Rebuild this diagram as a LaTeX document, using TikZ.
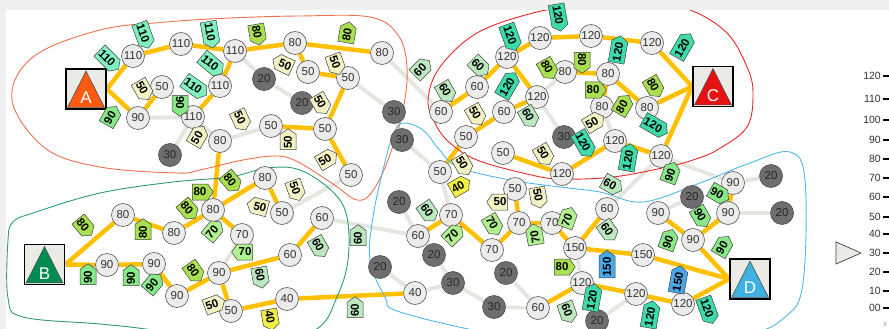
\documentclass[tikz,border=0pt]{standalone}
\usepackage{fontspec}
\setmainfont{Liberation Sans}
\usetikzlibrary{shapes.symbols,calc}
\definecolor{roady}{HTML}{FFC000}
\definecolor{roadg}{HTML}{E6E6E0}
\definecolor{cfill}{HTML}{ECECEA}
\definecolor{dfill}{HTML}{6E6E6E}
\definecolor{boxf}{HTML}{EBEBE6}
\definecolor{s110}{HTML}{80F0C0}
\definecolor{s120}{HTML}{3CDCAA}
\definecolor{s80}{HTML}{A8E050}
\definecolor{s90}{HTML}{88E888}
\definecolor{s70}{HTML}{B0F090}
\definecolor{s60}{HTML}{BCE8C0}
\definecolor{s50}{HTML}{F2F2C4}
\definecolor{s40}{HTML}{F0F040}
\definecolor{s150}{HTML}{4AA8E8}
\definecolor{oA}{HTML}{F07050}
\definecolor{oB}{HTML}{2E9C6E}
\definecolor{oC}{HTML}{E82828}
\definecolor{oD}{HTML}{50B8E8}
\definecolor{tA}{HTML}{FF5A10}
\definecolor{tB}{HTML}{008C50}
\definecolor{tC}{HTML}{E81010}
\definecolor{tD}{HTML}{40B0E0}
\definecolor{band}{HTML}{F0F0F0}
\pgfdeclarelayer{lgrey}
\pgfdeclarelayer{lyel}
\pgfdeclarelayer{lout}
\pgfsetlayers{lgrey,lyel,lout,main}
\newcommand\myL[4]{\node[lc] (#1) at (#2,#3) {#4};}
\newcommand\myD[4]{\node[dc] (#1) at (#2,#3) {#4};}
\newcommand\mySg[5]{\node[sgn,fill=s#5,rotate=#4] (#1) at (#2,#3) {#5};}
\newcommand\mySgw[5]{\node[sgn,signal to=west,fill=s#5,rotate=#4] (#1) at (#2,#3) {#5};}
\newcommand\myTerm[5]{%
  \node[box] (#1) at (#2,#3) {};
  \filldraw[fill=#4,draw=black!70,line width=0.6pt] ($(#1.south west)+(2.5,-2.5)$) -- ($(#1.south east)+(-2.5,-2.5)$) -- ($(#1.north)+(0,3)$) -- cycle;
  \node[text=white,font=\fontsize{17}{17}\selectfont] (#1lab) at (#2,#3+9) {#5};}
\begin{document}
\begin{tikzpicture}[x=1pt,y=-1pt,
 lc/.style={circle,draw=black!65,line width=0.6pt,fill=cfill,minimum size=23pt,inner sep=0pt,font=\fontsize{11.5}{11.5}\selectfont,text=black!80},
 dc/.style={lc,fill=dfill,draw=black!70,text=black!85},
 sgn/.style={signal,signal to=east,draw=black!75,line width=0.5pt,inner xsep=1.3pt,inner ysep=2pt,minimum height=16pt,signal pointer angle=110,font=\bfseries\fontsize{11.5}{11.5}\selectfont},
 yr/.style={line width=4.5pt,color=roady},
 gr/.style={line width=4pt,color=roadg},
 box/.style={draw=black,line width=1.8pt,fill=boxf,minimum size=40pt,inner sep=0pt},
 outl/.style={line width=0.9pt}]
\useasboundingbox (0,0) rectangle (889,329);
\clip (0,0) rectangle (889,329);
\fill[band] (0,0) rectangle (889,10);
\fill[band] (0,0) rectangle (6,329);
% terminals
\myTerm{A}{86}{89}{tA}{A}
\myTerm{B}{44.5}{264.5}{tB}{B}
\myTerm{C}{713}{86.5}{tC}{C}
\myTerm{D}{750}{279}{tD}{D}
% region A
\myL{a1}{133}{56}{110}
\myL{a2}{181}{44}{110}
\myL{a3}{235}{51}{110}
\myL{a4}{295}{43}{80}
\myL{a5}{382}{53}{80}
\myL{a6}{162}{87}{50}
\myL{a7}{220}{86}{110}
\myL{a8}{138}{118}{90}
\myL{a9}{193}{117}{110}
\myL{a10}{220}{141}{80}
\myL{a11}{308}{72}{50}
\myL{a12}{348}{78}{50}
\myL{a13}{271}{126}{50}
\myL{a14}{325}{129}{50}
\myL{a15}{351}{175}{50}
\myD{ad1}{264}{79}{20}
\myD{ad2}{302}{103}{20}
\myD{ad3}{170}{155}{30}
\myD{ad4}{394}{112}{30}
\myD{ad5}{402}{140}{30}
% region B
\myL{b1}{123}{215}{80}
\myL{b2}{174}{233}{80}
\myL{b3}{213}{210}{80}
\myL{b4}{107}{265}{90}
\myL{b5}{154}{264}{90}
\myL{b6}{177}{296}{90}
\myL{b7}{219}{273}{90}
\myL{b8}{265}{178}{80}
\myL{b9}{282}{213}{50}
\myL{b10}{242}{235}{70}
\myL{b11}{322}{218}{60}
\myL{b12}{290}{255}{60}
\myL{b13}{231}{311}{50}
\myL{b14}{287}{299}{40}
% region D
\myL{d1}{440}{172}{50}
\myL{d2}{515}{189}{50}
\myL{d3}{451}{215}{70}
\myL{d4}{418}{236}{60}
\myL{d5}{519}{223}{70}
\myL{d6}{552}{223}{70}
\myL{d7}{492}{250}{70}
\myL{d8}{575}{248}{150}
\myL{d9}{607}{209}{60}
\myL{d10}{415}{293}{40}
\myL{d11}{538}{308}{60}
\myL{d12}{582}{283}{120}
\myL{d13}{643}{255}{150}
\myL{d14}{636}{294}{120}
\myL{d15}{683}{304}{120}
\myL{d16}{658}{213}{90}
\myL{d17}{693}{240}{90}
\myL{d18}{728}{213}{90}
\myL{d19}{733}{183}{90}
\myD{dd1}{399}{202}{20}
\myD{dd2}{380}{267}{20}
\myD{dd3}{434}{255}{20}
\myD{dd4}{453}{283}{30}
\myD{dd5}{506}{273}{20}
\myD{dd6}{494}{307}{30}
\myD{dd7}{597}{321}{20}
\myD{dd8}{692}{197}{20}
\myD{dd9}{771}{176}{20}
\myD{dd10}{782}{213}{20}
% region C
\myL{c1}{540}{38}{120}
\myL{c2}{591}{36}{120}
\myL{c3}{652}{43}{120}
\myL{c4}{507}{57}{120}
\myL{c5}{477}{87}{60}
\myL{c6}{441}{112}{60}
\myL{c7}{504}{112}{60}
\myL{c8}{537}{97}{120}
\myL{c9}{565}{72}{80}
\myL{c10}{608}{74}{80}
\myL{c11}{602}{107}{80}
\myL{c12}{647}{108}{80}
\myL{c13}{466}{137}{50}
\myL{c14}{503}{153}{50}
\myL{c15}{615}{141}{120}
\myL{c16}{661}{156}{120}
\myL{c17}{562}{174}{120}
\myD{cd1}{564}{137}{30}
% roads
\begin{pgfonlayer}{lyel}
\draw[yr] (A.east) -- (a1);
\draw[yr] (A.east) -- (a8);
\foreach \p/\q in {a1/a2,a2/a3,a3/a4,a4/a5,a3/a7,a7/a9,a6/a8,a4/a11,a11/a12,a12/a14,a13/a14,a14/a15,a10/b3,
 b1/b2,b2/b3,b3/b8,b8/b9,b3/b10,b4/b5,b5/b6,b6/b7,b7/b12,b12/b11,b7/b13,b13/b14,b14/d10,
 d3/d4,d3/d7,d7/d5,d5/d6,d5/d2,d6/d8,d8/d9,d8/d13,d12/d11,d12/d14,d14/d15,d16/d17,d17/d18,d18/d19,
 c6/c5,c5/c4,c4/c1,c1/c2,c2/c3,c4/c8,c8/c7,c7/c13,c13/d1,c9/c10,c10/c12,c10/c11,c14/c17,c17/c15,c15/c16}
 {\draw[yr] (\p) -- (\q);}
\draw[yr] (B.east) -- (b1);
\draw[yr] (B.east) -- (b4);
\draw[yr] (d13) -- (D.west);
\draw[yr] (d15) -- (D.west);
\draw[yr] (d17) -- (D.west);
\draw[yr] (c3) -- (C.west);
\draw[yr] (c12) -- (C.west);
\draw[yr] (c16) -- (C.west);
\end{pgfonlayer}
\begin{pgfonlayer}{lgrey}
\foreach \p/\q in {a8/a9,a9/ad3,a9/a10,a10/a13,a3/ad1,ad1/ad2,a12/ad4,ad4/ad5,a5/c6,ad5/d1,a15/b9,b10/b7,b11/d4,dd1/d4,dd2/d10,d1/d3,dd3/dd4,d10/dd4,dd4/dd6,dd6/d11,dd5/d11,d12/d8,d14/dd7,d16/dd8,d19/dd9,d18/dd10,c16/d19,c16/d9,c8/cd1,c9/c8,c11/c15}
 {\draw[gr] (\p) -- (\q);}
\end{pgfonlayer}
% outlines
\begin{pgfonlayer}{lout}
\draw[oA,outl] plot[smooth cycle,tension=0.6] coordinates {(12,100) (33,57) (100,30) (167,22) (230,18) (300,16) (370,17) (398,35) (407,67) (403,110) (388,160) (372,192) (357,200) (333,184) (300,163) (278,156) (243,160) (200,170) (177,173) (100,167) (45,148)};
\draw[oB,outl] plot[smooth cycle,tension=0.6] coordinates {(13,222) (33,213) (100,193) (173,182) (230,177) (267,168) (300,170) (333,192) (347,217) (348,260) (337,297) (315,330) (250,345) (153,330) (100,324) (23,317) (8,298) (8,240)};
\draw[oC,outl] plot[smooth cycle,tension=0.6] coordinates {(428,100) (440,67) (477,33) (533,13) (573,8) (650,6) (690,10) (727,33) (747,67) (753,93) (747,127) (717,150) (693,160) (667,167) (613,177) (560,179) (527,174) (477,160) (450,143) (436,125)};
\draw[oD,outl] plot[smooth cycle,tension=0.6] coordinates {(403,123) (423,130) (438,148) (458,167) (510,180) (560,187) (600,192) (643,202) (700,183) (750,163) (790,152) (805,180) (803,283) (785,317) (740,335) (600,345) (500,335) (400,312) (385,297) (370,260) (373,217) (383,170) (393,135)};
\end{pgfonlayer}
% signs
\mySg{s1}{107}{58}{-45}{110}
\mySg{s2}{143}{33}{-70}{110}
\mySg{s3}{142}{88}{-60}{50}
\mySg{s4}{110}{118}{60}{90}
\mySg{s5}{180}{103}{-90}{90}
\mySg{s6}{193}{86}{-35}{110}
\mySg{s7}{210}{32}{-80}{110}
\mySg{s8}{210}{63}{-40}{110}
\mySg{s9}{197}{138}{60}{50}
\mySg{s10}{257}{32}{-80}{80}
\mySgw{s11}{285}{65}{-25}{50}
\mySg{s12}{347}{35}{80}{80}
\mySg{s13}{335}{62}{-70}{50}
\mySg{s14}{320}{102}{-60}{50}
\mySg{s15}{240}{118}{-65}{50}
\mySg{s16}{288}{142}{90}{50}
\mySg{s17}{325}{160}{30}{50}
\mySg{s18}{420}{70}{45}{60}
\mySg{s19}{230}{180}{-50}{80}
\mySg{s20}{200}{192}{0}{80}
\mySg{s21}{295}{188}{-70}{50}
\mySgw{s22}{260}{207}{-15}{50}
\mySg{s23}{212}{232}{50}{70}
\mySgw{s24}{245}{252}{0}{70}
\mySg{s25}{318}{245}{-60}{60}
\mySg{s26}{260}{275}{-80}{60}
\mySg{s27}{212}{305}{20}{50}
\mySg{s28}{270}{317}{-80}{40}
\mySg{s29}{358}{238}{90}{60}
\mySg{s30}{355}{310}{90}{60}
\mySg{s31}{83}{225}{-50}{80}
\mySg{s32}{143}{232}{90}{80}
\mySg{s33}{88}{277}{90}{90}
\mySg{s34}{131}{278}{90}{90}
\mySg{s35}{152}{285}{50}{90}
\mySg{s36}{187}{208}{-50}{80}
\mySg{s37}{193}{270}{-55}{80}
\mySg{s38}{462}{163}{-60}{50}
\mySg{s39}{458}{187}{30}{40}
\mySg{s40}{427}{210}{-55}{60}
\mySgw{s41}{500}{202}{0}{50}
\mySg{s42}{538}{195}{-80}{50}
\mySg{s43}{492}{223}{-60}{70}
\mySg{s44}{452}{236}{45}{70}
\mySg{s45}{535}{237}{100}{70}
\mySg{s46}{567}{220}{70}{70}
\mySg{s47}{607}{229}{-55}{60}
\mySg{s48}{610}{184}{-30}{60}
\mySg{s49}{628}{160}{80}{120}
\mySg{s50}{562}{267}{0}{80}
\mySg{s51}{607}{267}{90}{150}
\mySg{s52}{592}{300}{80}{120}
\mySg{s53}{567}{310}{-70}{60}
\mySg{s54}{670}{175}{70}{90}
\mySg{s55}{717}{193}{-30}{90}
\mySg{s56}{700}{215}{-60}{90}
\mySg{s57}{668}{242}{70}{90}
\mySg{s58}{722}{248}{60}{90}
\mySg{s59}{678}{282}{80}{150}
\mySg{s60}{650}{317}{80}{120}
\mySg{s61}{707}{308}{-70}{120}
\mySg{s63}{592}{123}{30}{50}
\mySg{s64}{653}{125}{-30}{120}
\mySg{s65}{583}{142}{-60}{120}
\mySg{s66}{510}{35}{-70}{120}
\mySg{s67}{558}{15}{-80}{120}
\mySg{s68}{478}{65}{-45}{60}
\mySg{s69}{445}{90}{-60}{60}
\mySg{s70}{547}{67}{-60}{80}
\mySg{s71}{582}{60}{-90}{80}
\mySg{s72}{593}{90}{0}{80}
\mySg{s73}{622}{107}{60}{80}
\mySg{s74}{475}{113}{-60}{50}
\mySg{s75}{528}{115}{-60}{60}
\mySg{s76}{507}{87}{60}{120}
\mySg{s77}{618}{52}{80}{120}
\mySg{s78}{543}{153}{-60}{50}
\mySg{s79}{682}{48}{60}{120}
\mySg{s80}{653}{85}{-60}{80}
% legend
\foreach \v/\yy in {120/76,110/99,100/120,90/140,80/159,70/178,60/197,50/217,40/234,30/253,20/272,10/291,00/308}{
  \node[anchor=east,inner sep=0pt,font=\fontsize{10.5}{10.5}\selectfont,text=black!80] (lg\v) at (881,\yy) {\v};
  \draw[line width=1.5pt] (883,\yy) -- (889,\yy);
}
\filldraw[fill=boxf,draw=black!75,line width=0.7pt] (836,242) -- (861,253) -- (836,264) -- cycle;
\node[font=\itshape\fontsize{6}{6}\selectfont,text=black!45,inner sep=0pt] (five) at (885,324) {5};
\end{tikzpicture}
\end{document}
